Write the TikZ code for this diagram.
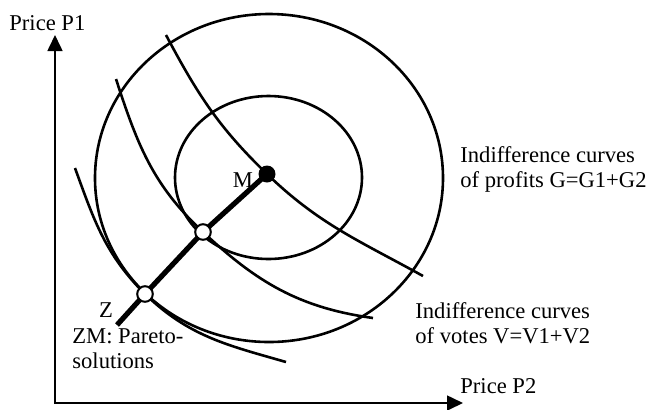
\documentclass[tikz,border=0pt]{standalone}
\usepackage{fontspec}
\setmainfont{Liberation Serif}
\usepackage{tikz}
\usetikzlibrary{arrows.meta}
\tikzset{
  axis/.style={draw=black, line width=0.8pt, {Triangle[length=8pt,width=7.5pt]}-{Triangle[length=8pt,width=7.5pt]}},
  curve/.style={draw=black, line width=1.3pt},
  pareto/.style={draw=black, line width=2.6pt},
  dot/.style={circle, fill=black, inner sep=0pt, minimum size=8.5pt},
  hole/.style={circle, draw=black, fill=white, line width=1pt, inner sep=0pt, minimum size=7.8pt},
  lab/.style={font=\fontsize{11.3}{12.5}\selectfont, inner sep=0pt, align=left},
}
\begin{document}
\begin{tikzpicture}[x=0.5pt, y=-0.5pt]
  \useasboundingbox (0,0) rectangle (649,409);
  % axes
  \coordinate (O) at (55,403);
  \coordinate (ytip) at (55,35);
  \coordinate (xtip) at (463,403);
  \draw[axis] (ytip) -- (O) -- (xtip);
  % profit curves
  \draw[curve] (269,178) ellipse [x radius=174, y radius=164];
  \draw[curve] (268.5,177.5) ellipse [x radius=93.5, y radius=81.5];
  % vote curves
  \coordinate (pM) at (267,174);
  \coordinate (pW) at (203,232);
  \coordinate (pZ) at (145,294);
  \coordinate (Zend) at (117,325);
  \draw[curve] (166,35) to[out=-62,in=136] (pM) to[out=-44,in=151] (423,276);
  \draw[curve] (116,79) to[out=-72,in=137] (pW) to[out=-43,in=172] (373,318);
  \draw[curve] (75,168) to[out=-70,in=135] (pZ) to[out=-44,in=164] (286,362);
  % pareto line
  \draw[pareto] (Zend) -- (pZ) -- (pW) -- (pM);
  \node[dot] (M) at (pM) {};
  \node[hole] (W) at (pW) {};
  \node[hole] (Z) at (pZ) {};
  % labels
  \node[lab, anchor=base west] (lblPone) at (9,30) {Price P1};
  \node[lab, anchor=base west] (lblPtwo) at (460,393) {Price P2};
  \node[lab, anchor=base] (lblM) at (243,187) {M};
  \node[lab, anchor=base] (lblZ) at (106,317) {Z};
  \node[lab, anchor=base west] (lblProfits) at (460,187) {Indifference curves\\of profits G=G1+G2};
  \node[lab, anchor=base west] (lblVotes) at (415,343) {Indifference curves\\of votes V=V1+V2};
  \node[lab, anchor=base west] (lblPareto) at (72,368) {ZM: Pareto-\\solutions};
\end{tikzpicture}
\end{document}
